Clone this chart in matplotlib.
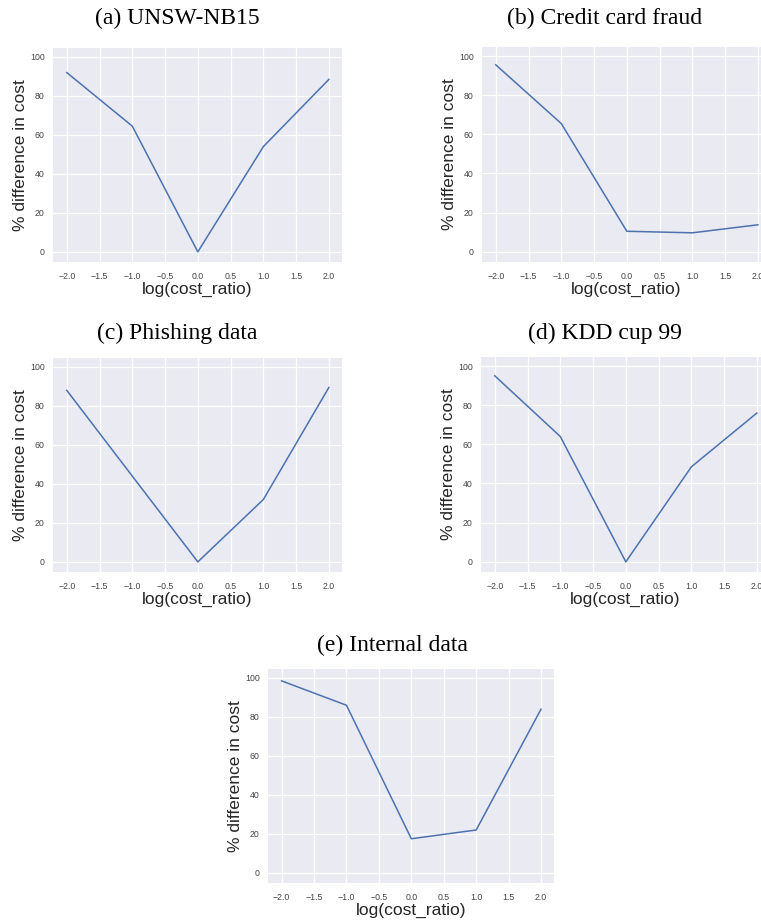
import matplotlib
matplotlib.use("Agg")
import matplotlib.pyplot as plt

# log cost ratio on x, % difference in cost on y
log_ratio = [-2.0, -1.0, 0.0, 1.0, 2.0]
unsw_nb15 = [92.0, 64.5, 0.0, 54.0, 88.5]
credit_card = [95.5, 65.5, 10.5, 9.7, 13.8]
phishing = [88.0, 44.0, 0.0, 32.0, 89.5]
kdd_cup = [95.0, 64.0, 0.0, 48.5, 76.0]
internal = [98.5, 86.0, 17.5, 22.0, 84.0]

titles = ["(a) UNSW-NB15", "(b) Credit card fraud", "(c) Phishing data",
          "(d) KDD cup 99", "(e) Internal data"]
series = [unsw_nb15, credit_card, phishing, kdd_cup, internal]
xticks = [-2.0, -1.5, -1.0, -0.5, 0.0, 0.5, 1.0, 1.5, 2.0]
yticks = [0, 20, 40, 60, 80, 100]

W, H = 761, 924
# axes boxes in pixels: left, top, right, bottom
boxes = [(53, 48, 342, 262), (482, 47, 771, 262),
         (53, 358, 342, 572), (481, 357, 770, 572),
         (268, 669, 554, 883)]
# caption centres in pixels
caps = [(177, 18), (605, 18), (177, 333), (605, 333), (392, 645)]

plt.rcParams["font.family"] = ["Liberation Sans", "DejaVu Sans"]
fig = plt.figure(figsize=(W / 100, H / 100), dpi=100)

for title, ys, box, cap in zip(titles, series, boxes, caps):
    l, t, r, b = box
    ax = fig.add_axes([l / W, 1 - b / H, (r - l) / W, (b - t) / H])
    ax.set_facecolor("#EAEAF2")
    for s in ax.spines.values():
        s.set_visible(False)
    ax.grid(True, color="white", linewidth=0.9)
    ax.set_axisbelow(True)
    ax.plot(log_ratio, ys, color="#4C72B0", linewidth=1.1)
    ax.set_xlim(-2.21, 2.2)
    ax.set_ylim(-5.2, 104.6)
    ax.set_xticks(xticks)
    ax.set_yticks(yticks)
    ax.tick_params(axis="x", length=0, pad=7, labelsize=6.3, labelcolor="#444444")
    ax.tick_params(axis="y", length=0, pad=6, labelsize=6.3, labelcolor="#444444")
    ax.set_xlabel("log(cost_ratio)", fontsize=12.5, color="#262626", labelpad=1)
    ax.set_ylabel("% difference in cost", fontsize=12.5, color="#262626", labelpad=1.5)
    fig.text(cap[0] / W, 1 - cap[1] / H, title, ha="center", va="center",
             fontsize=17, family="Liberation Serif", color="black")

fig.savefig("out.png", dpi=100)
